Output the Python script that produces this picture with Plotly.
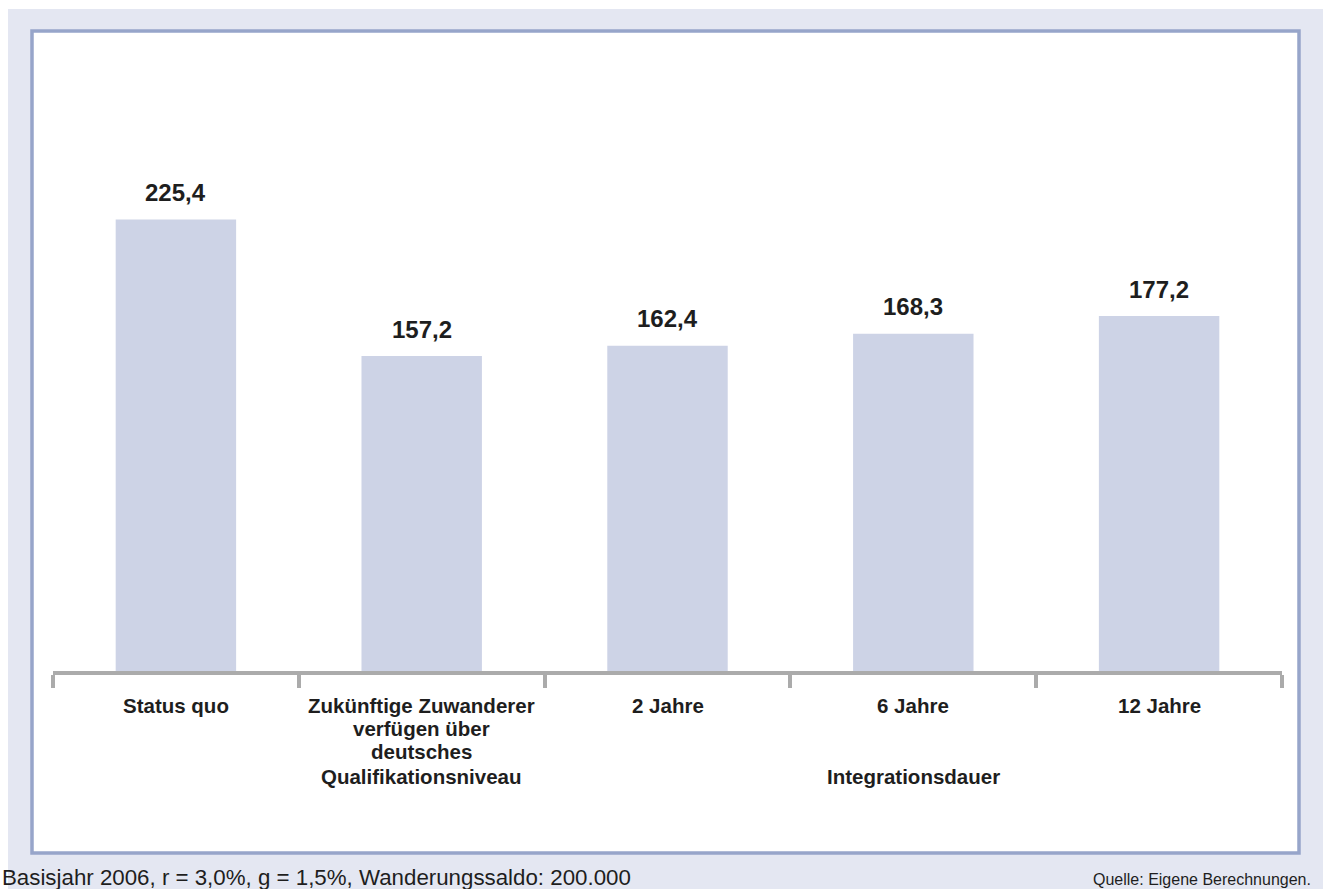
import plotly.graph_objects as go

# Data
categories = ["Status quo", "Qualifikationsniveau", "2 Jahre", "6 Jahre", "12 Jahre"]
category_lines = [
    ["Status quo"],
    ["Zukünftige Zuwanderer", "verfügen über", "deutsches", "Qualifikationsniveau"],
    ["2 Jahre"],
    ["6 Jahre"],
    ["12 Jahre"],
]
values = [225.4, 157.2, 162.4, 168.3, 177.2]
group_label = "Integrationsdauer"
group_label_category = "6 Jahre"
footnote_left = "Basisjahr 2006, r = 3,0%, g = 1,5%, Wanderungssaldo: 200.000"
footnote_right = "Quelle: Eigene Berechnungen."

# Page geometry (pixels)
W, H = 1323, 889
ML, MR, MT, MB = 53, 41, 70, 218
PW, PH = W - ML - MR, H - MT - MB

FONT = "Liberation Sans, Arial, Helvetica, sans-serif"
TEXT = "#1e1e1e"
BAR = "#cdd3e6"
PANEL_BG = "#e4e7f2"
FRAME = "#97a5ca"
AXIS = "#ababab"


def px_x(px):
    return (px - ML) / PW


def px_y(py):
    return (H - MB - py) / PH


def de_num(v):
    return f"{v:.1f}".replace(".", ",")


fig = go.Figure()
fig.add_trace(
    go.Bar(
        x=categories,
        y=values,
        width=0.49,
        marker=dict(color=BAR, line=dict(width=0)),
        hoverinfo="skip",
    )
)

annotations = []
# value labels above bars
for c, v in zip(categories, values):
    annotations.append(
        dict(
            x=c, y=v, xref="x", yref="y",
            text=f"<b>{de_num(v)}</b>", showarrow=False,
            yanchor="middle", yshift=27,
            font=dict(family=FONT, size=24, color=TEXT),
        )
    )

# category labels, one annotation per line for tight line spacing
line_centers = [705, 728.5, 752, 776]
for c, lines in zip(categories, category_lines):
    for i, ln in enumerate(lines):
        annotations.append(
            dict(
                x=c, y=px_y(line_centers[i]), xref="x", yref="paper",
                text=f"<b>{ln}</b>", showarrow=False, yanchor="middle",
                font=dict(family=FONT, size=20.5, color=TEXT),
            )
        )

annotations.append(
    dict(
        x=group_label_category, y=px_y(776), xref="x", yref="paper",
        text=f"<b>{group_label}</b>", showarrow=False, yanchor="middle",
        font=dict(family=FONT, size=20.5, color=TEXT),
    )
)

annotations.append(
    dict(
        x=px_x(0), y=px_y(877), xref="paper", yref="paper",
        text=footnote_left, showarrow=False, xanchor="left", yanchor="middle",
        font=dict(family=FONT, size=22.3, color=TEXT),
    )
)
annotations.append(
    dict(
        x=px_x(1313), y=px_y(879), xref="paper", yref="paper",
        text=footnote_right, showarrow=False, xanchor="right", yanchor="middle",
        font=dict(family=FONT, size=16, color=TEXT),
    )
)

shapes = [
    # tinted backdrop
    dict(
        type="rect", xref="paper", yref="paper", layer="below",
        x0=px_x(8), x1=px_x(W + 5), y0=px_y(9), y1=px_y(H + 5),
        fillcolor=PANEL_BG, line=dict(width=0),
    ),
    # framed white panel
    dict(
        type="rect", xref="paper", yref="paper", layer="below",
        x0=px_x(32), x1=px_x(1299), y0=px_y(31), y1=px_y(853),
        fillcolor="white", line=dict(color=FRAME, width=3.5),
    ),
]

fig.update_layout(
    width=W, height=H,
    margin=dict(l=ML, r=MR, t=MT, b=MB),
    paper_bgcolor="white",
    plot_bgcolor="rgba(0,0,0,0)",
    showlegend=False,
    bargap=0.51,
    annotations=annotations,
    shapes=shapes,
    xaxis=dict(
        type="category",
        range=[-0.5, len(categories) - 0.5],
        showticklabels=False,
        showgrid=False,
        zeroline=False,
        showline=True, linecolor=AXIS, linewidth=4,
        ticks="outside", tickson="boundaries",
        ticklen=13, tickwidth=4, tickcolor=AXIS,
    ),
    yaxis=dict(
        range=[0, 300],
        visible=False,
        showgrid=False,
        zeroline=False,
    ),
)

fig.write_html("out.html")
